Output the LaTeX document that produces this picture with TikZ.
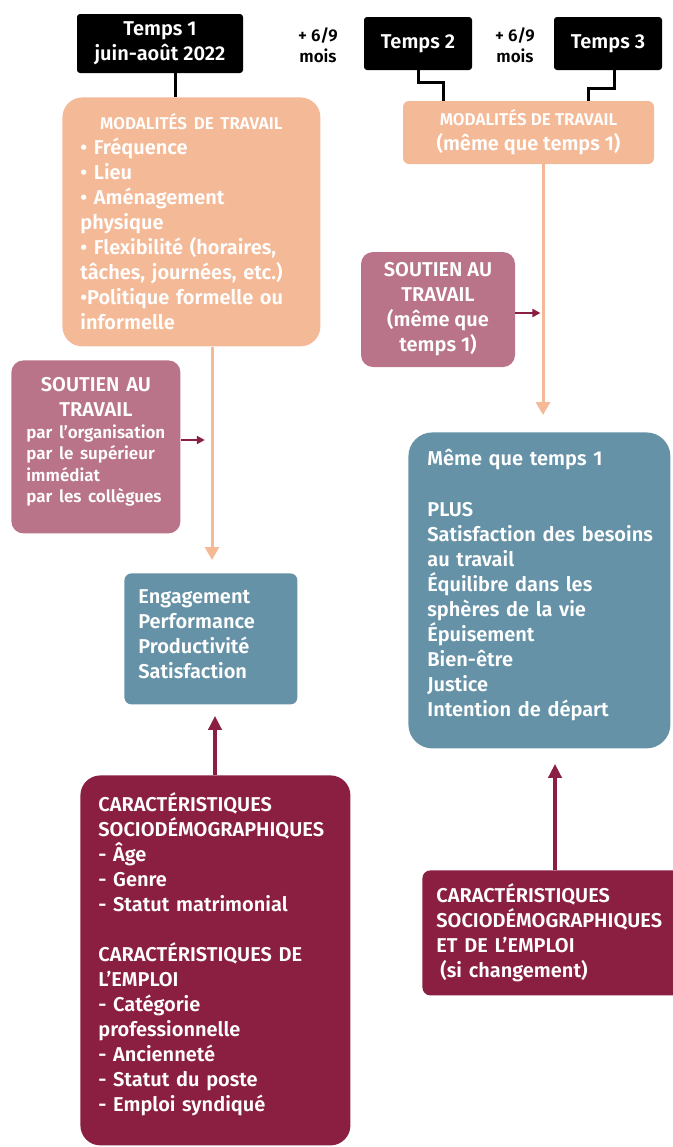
\documentclass[tikz,border=0pt]{standalone}
\usepackage{fontspec}
\setmainfont{Fira Sans}[BoldFont={Fira Sans SemiBold}]
\usetikzlibrary{arrows.meta,positioning}
\definecolor{tmpeach}{RGB}{244,186,152}
\definecolor{tmmauve}{RGB}{185,116,137}
\definecolor{tmteal}{RGB}{101,146,167}
\definecolor{tmwine}{RGB}{139,31,65}
\newcommand{\tmbody}{\fontsize{10}{12.5}\selectfont\bfseries}
\newcommand{\tmhead}{\fontsize{8.5}{10}\selectfont}
\newcommand{\tmsmall}{\fontsize{8.5}{10.75}\selectfont\bfseries}

\begin{document}
\begin{tikzpicture}[x=0.5pt,y=-0.5pt,
  tempsbox/.style={fill=black,text=white,rounded corners=1.5pt,align=center,font=\tmbody,inner sep=0pt},
  gaplabel/.style={align=center,font=\tmsmall},
  card/.style={text=white,font=\tmbody,inner ysep=0pt},
  link/.style={line width=1.5pt},
  flow/.style={tmpeach,line width=1.5pt,-{Triangle[width=7pt,length=6.5pt]}},
  push/.style={tmwine,line width=2pt,-{Triangle[width=6.5pt,length=7pt]}},
  nudge/.style={tmwine,line width=1pt,-{Triangle[width=4pt,length=4pt]}}]
  \useasboundingbox (0,0) rectangle (673,1147);
  \clip (0,0) rectangle (673,1147);
  % Temps
  \node[tempsbox,minimum width=83pt,minimum height=29.5pt] (temps1) at (160,43.5) {Temps 1\\juin-août 2022};
  \node[gaplabel] (gap1) at (318,45) {+ 6/9\\mois};
  \node[tempsbox,minimum width=54pt,minimum height=26.5pt] (temps2) at (418,43.5) {Temps 2};
  \node[gaplabel] (gap2) at (515,45) {+ 6/9\\mois};
  \node[tempsbox,minimum width=54pt,minimum height=26.5pt] (temps3) at (608,43.5) {Temps 3};
  % Temps 1
  \node[card,fill=tmpeach,rounded corners=10pt,anchor=north west,text width=111pt,inner xsep=9pt,minimum height=124.5pt,align=left] (mod1) at (62,97) {{\centering\tmhead MODALITÉS DE TRAVAIL\par}• Fréquence\\• Lieu\\• Aménagement\\physique\\• Flexibilité (horaires,\\tâches, journées, etc.)\\•Politique formelle ou\\informelle};
  \node[card,fill=tmmauve,rounded corners=6pt,anchor=north west,text width=69.5pt,inner xsep=7.5pt,minimum height=86.5pt,align=left] (soutien1) at (11,360) {{\centering SOUTIEN AU\\TRAVAIL\par}\tmsmall\mbox{par l’organisation}\\par le supérieur\\immédiat\\par les collègues\par\vspace{5pt}};
  \node[card,fill=tmteal,rounded corners=3.5pt,anchor=north west,text width=72.5pt,inner xsep=7pt,minimum height=65.5pt,align=left] (eng) at (124,573) {Engagement\\Performance\\Productivité\\Satisfaction\par\vspace{5pt}};
  \node[card,fill=tmwine,rounded corners=10pt,anchor=north west,text width=117pt,inner xsep=9pt,minimum height=185pt,align=left] (caract1) at (80,775) {CARACTÉRISTIQUES\\\mbox{SOCIODÉMOGRAPHIQUES}\\- Âge\\- Genre\\- Statut matrimonial\\[12.5pt]CARACTÉRISTIQUES DE\\L’EMPLOI\\- Catégorie\\professionnelle\\- Ancienneté\\- Statut du poste\\- Emploi syndiqué\par\vspace{6pt}};
  % Temps 2 et 3
  \node[card,fill=tmpeach,rounded corners=3pt,minimum width=125.5pt,minimum height=31.5pt,align=center] (mod2) at (528.5,132.5) {{\tmhead MODALITÉS DE TRAVAIL}\\(même que temps 1)};
  \node[card,fill=tmmauve,rounded corners=6pt,minimum width=77pt,minimum height=57.5pt,align=center] (soutien2) at (438,309.5) {SOUTIEN AU\\TRAVAIL\\(même que\\temps 1)};
  \node[card,fill=tmteal,rounded corners=12pt,anchor=north west,text width=112pt,inner xsep=9.5pt,minimum height=158pt,align=left] (suivi) at (408,432) {Même que temps 1\\[13pt]PLUS\\\mbox{Satisfaction des besoins}\\au travail\\Équilibre dans les\\sphères de la vie\\Épuisement\\Bien-être\\Justice\\Intention de départ\par\vspace{5pt}};
  \node[card,fill=tmwine,rounded corners=4pt,anchor=north west,text width=120pt,inner xsep=7pt,minimum height=62.5pt,align=left] (caract2) at (422,870) {CARACTÉRISTIQUES\\\mbox{SOCIODÉMOGRAPHIQUES}\\ET DE L'EMPLOI\\\hspace{2pt}(si changement)};
  % liens
  \draw[link] (temps1.south -| 175,0) -- (175,0 |- mod1.north);
  \draw[link] (temps2.south) -- ++(0,12) -| (443,0 |- mod2.north);
  \draw[link] (temps3.south -| 614,0) -- ++(0,18) -| (588,0 |- mod2.north);
  \draw[flow,shorten >=6.5pt] (mod1.south -| 212,0) -- (212,0 |- eng.north);
  \draw[flow,shorten >=8.5pt] (mod2.south -| 543,0) -- (543,0 |- suivi.north);
  \draw[nudge] (soutien1.east |- 0,440) -- ++(24,0);
  \draw[nudge] (soutien2.east |- 0,313) -- ++(25,0);
  \draw[push,shorten >=5.5pt] (caract1.north -| 215,0) -- (215,0 |- eng.south);
  \draw[push,shorten >=7.5pt] (caract2.north -| 555,0) -- (555,0 |- suivi.south);
\end{tikzpicture}
\end{document}
